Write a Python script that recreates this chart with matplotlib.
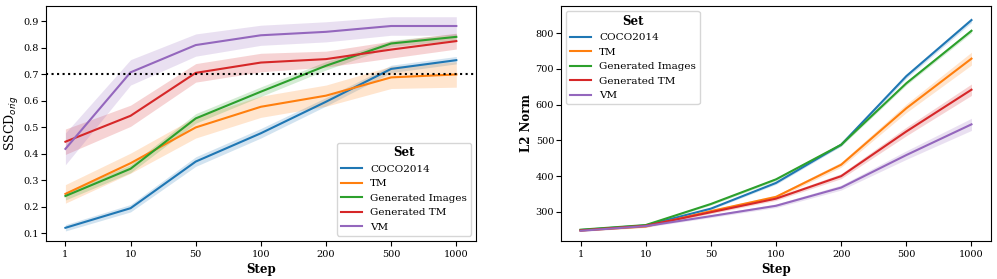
import matplotlib
matplotlib.use('Agg')
import matplotlib.pyplot as plt
import numpy as np

plt.rcParams['font.family'] = 'DejaVu Serif'

steps = ['1', '10', '50', '100', '200', '500', '1000']
sets = ['COCO2014', 'TM', 'Generated Images', 'Generated TM', 'VM']
colors = ['#1f77b4', '#ff7f0e', '#2ca02c', '#d62728', '#9467bd']

# SSCD_orig means and band half-widths
sscd_mean = {
    'COCO2014': [0.120, 0.194, 0.370, 0.477, 0.596, 0.720, 0.753],
    'TM': [0.248, 0.364, 0.499, 0.577, 0.619, 0.688, 0.699],
    'Generated Images': [0.240, 0.343, 0.533, 0.634, 0.732, 0.816, 0.841],
    'Generated TM': [0.445, 0.543, 0.705, 0.744, 0.757, 0.793, 0.825],
    'VM': [0.418, 0.707, 0.810, 0.847, 0.860, 0.882, 0.882],
}
sscd_err = {
    'COCO2014': [0.012, 0.014, 0.018, 0.018, 0.016, 0.014, 0.014],
    'TM': [0.035, 0.038, 0.040, 0.040, 0.040, 0.042, 0.048],
    'Generated Images': [0.015, 0.015, 0.018, 0.018, 0.016, 0.012, 0.012],
    'Generated TM': [0.048, 0.040, 0.035, 0.035, 0.030, 0.032, 0.030],
    'VM': [0.060, 0.048, 0.042, 0.038, 0.038, 0.035, 0.035],
}

# L2 norm means and band half-widths
l2_mean = {
    'COCO2014': [249, 262, 309, 381, 488, 680, 837],
    'TM': [248, 259, 302, 342, 432, 590, 729],
    'Generated Images': [250, 263, 322, 391, 488, 660, 807],
    'Generated TM': [248, 261, 299, 337, 400, 525, 642],
    'VM': [247, 260, 288, 317, 368, 459, 545],
}
l2_err = {
    'COCO2014': [2, 3, 3, 4, 4, 6, 7],
    'TM': [2, 3, 4, 5, 7, 12, 18],
    'Generated Images': [2, 3, 3, 4, 4, 5, 6],
    'Generated TM': [2, 3, 4, 5, 7, 12, 16],
    'VM': [2, 3, 4, 5, 7, 12, 17],
}

fig, (ax1, ax2) = plt.subplots(1, 2, figsize=(9.97, 2.79), dpi=100)
fig.subplots_adjust(left=0.046, right=0.994, top=0.978, bottom=0.137, wspace=0.198)

x = np.arange(len(steps))
for name, c in zip(sets, colors):
    m = np.array(sscd_mean[name])
    e = np.array(sscd_err[name])
    ax1.fill_between(x, m - e, m + e, color=c, alpha=0.2, lw=0)
    ax1.plot(x, m, color=c, lw=1.5, label=name)

    m = np.array(l2_mean[name])
    e = np.array(l2_err[name])
    ax2.fill_between(x, m - e, m + e, color=c, alpha=0.2, lw=0)
    ax2.plot(x, m, color=c, lw=1.5, label=name)

ax1.axhline(0.7, color='black', ls=':', lw=1.5)

ax1.set_ylim(0.071, 0.957)
ax1.set_yticks([0.1, 0.2, 0.3, 0.4, 0.5, 0.6, 0.7, 0.8, 0.9])
ax2.set_ylim(219, 876)
ax2.set_yticks([300, 400, 500, 600, 700, 800])

for ax in (ax1, ax2):
    ax.set_xticks(x)
    ax.set_xticklabels(steps)
    ax.set_xlim(-0.3, 6.3)
    ax.tick_params(labelsize=7, length=3.5)
    ax.tick_params(axis='y', pad=1.5)
    ax.tick_params(axis='x', pad=3)
    ax.set_xlabel('Step', fontsize=8.5, fontweight='bold', labelpad=3)

ax1.set_ylabel('SSCD$_{orig}$', fontsize=9, labelpad=2)
ax2.set_ylabel('L2 Norm', fontsize=8.5, fontweight='bold', labelpad=2)

leg1 = ax1.legend(title='Set', loc='lower right', fontsize=7.5, title_fontsize=8.5,
                  handlelength=2.0, labelspacing=0.5, borderpad=0.35,
                  handletextpad=0.8)
leg1.get_title().set_fontweight('bold')
leg2 = ax2.legend(title='Set', loc='upper left', fontsize=7.5, title_fontsize=8.5,
                  handlelength=2.0, labelspacing=0.5, borderpad=0.35,
                  handletextpad=0.8)
leg2.get_title().set_fontweight('bold')

fig.savefig('out.png', dpi=100)
